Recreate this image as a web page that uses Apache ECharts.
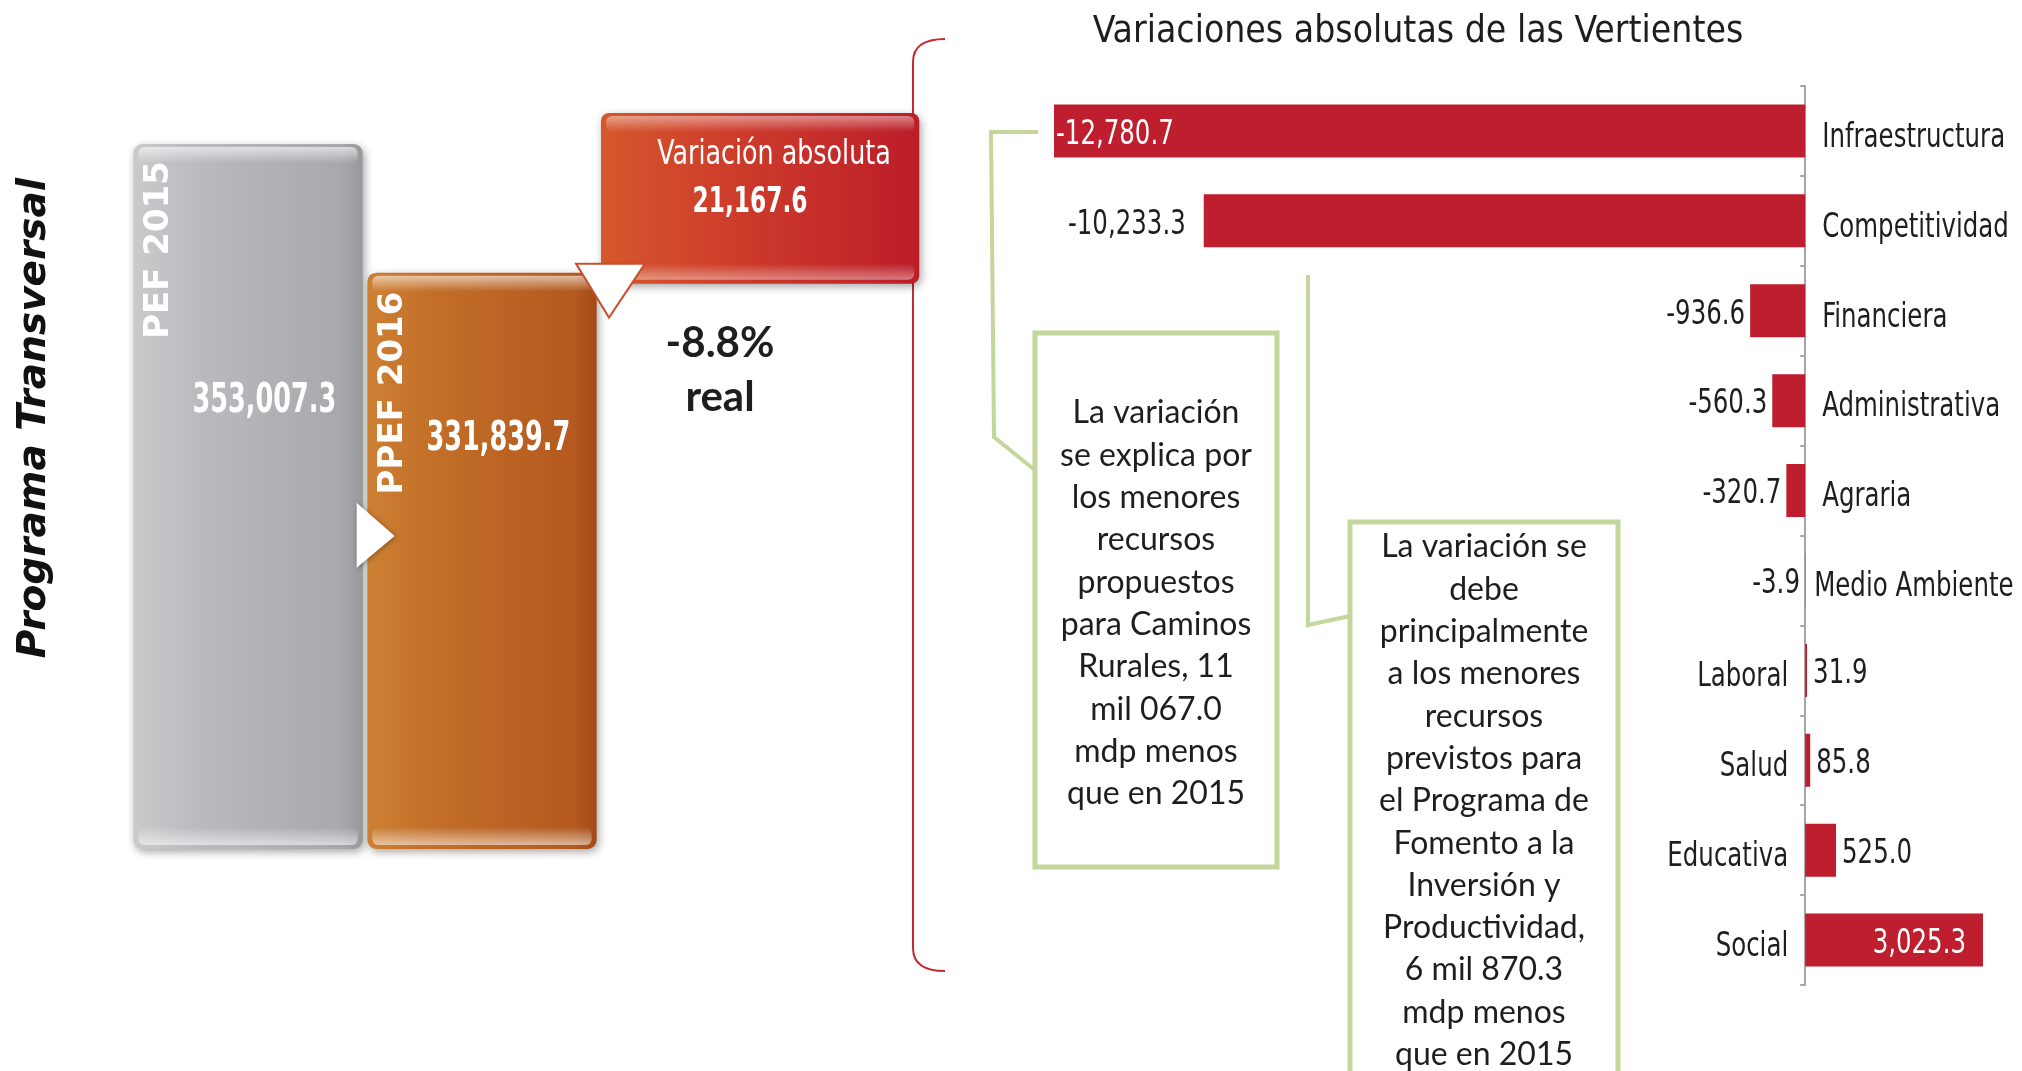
<!DOCTYPE html>
<html><head><meta charset="utf-8">
<script src="https://cdn.jsdelivr.net/npm/echarts/dist/echarts.min.js"></script>
<style>html,body{margin:0;padding:0;background:#fff}#c{width:2022px;height:1071px}</style>
</head><body><div id="c"></div>
<script>
// ---------- data ----------
const programLabel = 'Programa Transversal';
const budgetCategories = ['PEF 2015', 'PPEF 2016'];
const budgetValues = [353007.3, 331839.7];
const variationLabel = 'Variación absoluta';
const variationValue = 21167.6;
const realChange = ['-8.8%', 'real'];
const chartTitle = 'Variaciones absolutas de las Vertientes';
const vertientes = ['Infraestructura', 'Competitividad', 'Financiera', 'Administrativa', 'Agraria',
  'Medio Ambiente', 'Laboral', 'Salud', 'Educativa', 'Social'];
const variaciones = [-12780.7, -10233.3, -936.6, -560.3, -320.7, -3.9, 31.9, 85.8, 525.0, 3025.3];
const note1 = ['La variación', 'se explica por', 'los menores', 'recursos', 'propuestos',
  'para Caminos', 'Rurales, 11', 'mil 067.0', 'mdp menos', 'que en 2015'];
const note2 = ['La variación se', 'debe', 'principalmente', 'a los menores', 'recursos',
  'previstos para', 'el Programa de', 'Fomento a la', 'Inversión y', 'Productividad,',
  '6 mil 870.3', 'mdp menos', 'que en 2015'];

// ---------- helpers ----------
const COND = '"DejaVu Sans Condensed","DejaVu Sans",sans-serif';
const fmt = v => (v < 0 ? '-' : '') + Math.abs(v).toFixed(1).replace(/\B(?=(\d{3})+(?!\d))/g, ',');
const LG = echarts.graphic.LinearGradient;
const GREEN = '#c3d69b';
const DARK = '#1e1e1e';
const MID = { verticalAlign: 'middle', textVerticalAlign: 'middle' };

const chart = echarts.init(document.getElementById('c'));

const budgetStyles = [
  { stops: ['#c9cacc', '#b8babd', '#a7a9ac', '#97999c'], labelDx: 26, labelDy: 17, valueDx: 131, valueDy: 258 },
  { stops: ['#cd8033', '#c26e28', '#b4591f', '#a34a1a'], labelDx: 26, labelDy: 19, valueDx: 131, valueDy: 167 }
];

function renderBudget(params, api) {
  const i = params.dataIndex;
  const st = budgetStyles[i];
  const p = api.coord([api.value(0), api.value(1)]);
  const band = api.size([1, 0])[0];
  const w = band * 0.98;
  const x = p[0] - w / 2, y = p[1];
  const bottom = params.coordSys.y + params.coordSys.height;
  const h = bottom - y;
  const grad = new LG(0, 0, 1, 0, [
    { offset: 0, color: st.stops[0] }, { offset: 0.3, color: st.stops[1] },
    { offset: 0.9, color: st.stops[2] }, { offset: 1, color: st.stops[3] }]);
  const children = [
    { type: 'rect', shape: { x, y, width: w, height: h, r: 9 },
      style: { fill: grad, shadowBlur: 8, shadowColor: 'rgba(0,0,0,0.35)', shadowOffsetX: 2, shadowOffsetY: 3 } },
    { type: 'rect', shape: { x: x + 5, y: y + 3, width: w - 10, height: 16, r: 6 },
      style: { fill: new LG(0, 0, 0, 1, [{ offset: 0, color: 'rgba(255,255,255,0.6)' }, { offset: 1, color: 'rgba(255,255,255,0)' }]) } },
    { type: 'rect', shape: { x: x + 5, y: bottom - 22, width: w - 10, height: 18, r: 6 },
      style: { fill: new LG(0, 0, 0, 1, [{ offset: 0, color: 'rgba(255,255,255,0)' }, { offset: 1, color: 'rgba(255,255,255,0.55)' }]) } },
    { type: 'text', x: x + st.labelDx, y: y + st.labelDy, rotation: Math.PI / 2,
      style: Object.assign({ text: budgetCategories[i], fill: '#fff', font: 'bold 34px "DejaVu Sans"', textAlign: 'right' }, MID) },
    { type: 'text', x: x + st.valueDx, y: y + st.valueDy, scaleX: 0.71,
      style: Object.assign({ text: fmt(api.value(1)), fill: '#fff', font: 'bold 40px ' + COND, textAlign: 'center' }, MID) }
  ];
  if (i === 0) {
    children.push({ type: 'polygon', z2: 100, shape: { points: [[x + w - 6, y + h * 0.509], [x + w + 32, y + h * 0.556], [x + w - 6, y + h * 0.601]] },
      style: { fill: '#fff', shadowBlur: 5, shadowColor: 'rgba(0,0,0,0.35)', shadowOffsetX: 1, shadowOffsetY: 1 } });
  }
  return { type: 'group', children };
}

function renderVariation(params, api) {
  const band = api.size([1, 0])[0];
  const pLow = api.coord([api.value(0), api.value(1)]);
  const pHigh = api.coord([api.value(0), api.value(2)]);
  const left = pLow[0] - band / 2 + 2;
  const w = band * 1.36;
  const top = pHigh[1] - 31, bottom = pLow[1] + 11;
  const h = bottom - top;
  return { type: 'group', children: [
    { type: 'rect', shape: { x: left, y: top, width: w, height: h, r: 8 },
      style: { fill: new LG(0, 0, 1, 0, [{ offset: 0, color: '#d5582d' }, { offset: 0.35, color: '#cf402b' }, { offset: 1, color: '#bc1d29' }]),
        shadowBlur: 8, shadowColor: 'rgba(0,0,0,0.35)', shadowOffsetX: 2, shadowOffsetY: 3 } },
    { type: 'rect', shape: { x: left + 5, y: top + 3, width: w - 10, height: 16, r: 6 },
      style: { fill: new LG(0, 0, 0, 1, [{ offset: 0, color: 'rgba(255,255,255,0.45)' }, { offset: 1, color: 'rgba(255,255,255,0)' }]) } },
    { type: 'rect', shape: { x: left + 5, y: bottom - 20, width: w - 10, height: 16, r: 6 },
      style: { fill: new LG(0, 0, 0, 1, [{ offset: 0, color: 'rgba(255,255,255,0)' }, { offset: 1, color: 'rgba(255,255,255,0.4)' }]) } },
    { type: 'text', x: left + 173, y: top + 42, scaleX: 0.83,
      style: Object.assign({ text: variationLabel, fill: '#fff', font: '34px ' + COND, textAlign: 'center' }, MID) },
    { type: 'text', x: left + 149, y: top + 90, scaleX: 0.72,
      style: Object.assign({ text: fmt(api.value(3)), fill: '#fff', font: 'bold 36px ' + COND, textAlign: 'center' }, MID) },
    { type: 'polygon', shape: { points: [[left - 25, bottom - 20], [left + 44, bottom - 20], [left + 8, bottom + 34]] },
      style: { fill: '#fff', stroke: '#c9502c', lineWidth: 2 } },
    { type: 'text', x: left + 119, y: bottom + 60,
      style: Object.assign({ text: realChange[0], fill: DARK, font: 'bold 42px Lato', textAlign: 'center' }, MID) },
    { type: 'text', x: left + 119, y: bottom + 114,
      style: Object.assign({ text: realChange[1], fill: DARK, font: 'bold 42px Lato', textAlign: 'center' }, MID) }
  ] };
}

const lastIdx = variaciones.length - 1;
function renderLabels(params, api) {
  const i = params.dataIndex;
  const v = api.value(0);
  const end = api.coord([v, i]);
  const zero = api.coord([0, i]);
  const neg = v < 0;
  let vx, align, color = DARK;
  if (i === 0) { vx = end[0] + 2; align = 'left'; color = '#fff'; }
  else if (i === lastIdx) { vx = end[0] - 17; align = 'right'; color = '#fff'; }
  else if (neg) { vx = end[0] - (i === 1 ? 18 : 5); align = 'right'; }
  else { vx = end[0] + 6; align = 'left'; }
  const nx = neg ? zero[0] + (i === 5 ? 9 : 17) : zero[0] - 17;
  return { type: 'group', children: [
    { type: 'text', x: vx, y: end[1] + 4, scaleX: 0.8,
      style: Object.assign({ text: fmt(v), fill: color, font: '34px ' + COND, textAlign: align }, MID) },
    { type: 'text', x: nx, y: zero[1] + 7, scaleX: 0.8,
      style: Object.assign({ text: vertientes[i], fill: DARK, font: '34px ' + COND, textAlign: neg ? 'left' : 'right' }, MID) }
  ] };
}

function textBlock(lines, cx, top) {
  return { type: 'text', x: cx, y: top,
    style: { text: lines.join('\n'), fill: DARK, font: '32px Lato', lineHeight: 42.3,
      textAlign: 'center', verticalAlign: 'top', textVerticalAlign: 'top' } };
}
const BRACE = { stroke: '#c42a30', lineWidth: 2, fill: 'none' };

chart.setOption({
  backgroundColor: '#fff',
  animation: false,
  grid: [
    { left: 131, top: 144, width: 702, height: 705 },
    { left: 1054, top: 86, width: 929, height: 899 }
  ],
  xAxis: [
    { gridIndex: 0, type: 'category', data: [budgetCategories[0], budgetCategories[1], variationLabel], show: false },
    { gridIndex: 1, type: 'value', min: v => v.min, max: v => v.max, show: false }
  ],
  yAxis: [
    { gridIndex: 0, type: 'value', min: 237000, max: 'dataMax', show: false },
    { gridIndex: 1, type: 'category', data: vertientes, inverse: true,
      axisLine: { onZero: true, lineStyle: { color: '#a6a6a6', width: 2 } },
      axisTick: { show: true, length: 5, lineStyle: { color: '#a6a6a6', width: 2 } },
      axisLabel: { show: false }, splitLine: { show: false } }
  ],
  series: [
    { type: 'custom', xAxisIndex: 0, yAxisIndex: 0, renderItem: renderBudget,
      encode: { x: 0, y: 1 }, data: budgetValues.map((v, i) => [i, v]) },
    { type: 'custom', xAxisIndex: 0, yAxisIndex: 0, renderItem: renderVariation,
      encode: { x: 0, y: [1, 2] },
      data: [[2, budgetValues[1], budgetValues[1] + variationValue, variationValue]] },
    { type: 'bar', xAxisIndex: 1, yAxisIndex: 1, barWidth: 53, data: variaciones,
      itemStyle: { color: '#be1e2d' } },
    { type: 'custom', xAxisIndex: 1, yAxisIndex: 1, renderItem: renderLabels, silent: true,
      encode: { x: 0, y: 1 }, data: variaciones.map((v, i) => [v, i]), z: 5 }
  ],
  graphic: [
    { type: 'text', x: 1418, y: 32, style: Object.assign({ text: chartTitle, fill: DARK, font: '37px ' + COND, textAlign: 'center' }, MID) },
    { type: 'text', x: 35, y: 418, rotation: Math.PI / 2, style: Object.assign({ text: programLabel, fill: '#111',
      font: 'italic bold 39px "DejaVu Sans"', textAlign: 'center' }, MID) },
    { type: 'bezierCurve', shape: { x1: 945, y1: 39, cpx1: 913, cpy1: 39, x2: 913, y2: 62 }, style: BRACE },
    { type: 'line', shape: { x1: 913, y1: 62, x2: 913, y2: 948 }, style: BRACE },
    { type: 'bezierCurve', shape: { x1: 913, y1: 948, cpx1: 913, cpy1: 971, x2: 945, y2: 971 }, style: BRACE },
    { type: 'polyline', shape: { points: [[1038, 132], [991, 132], [994, 437], [1036, 471]] },
      style: { stroke: GREEN, lineWidth: 4, fill: 'none' } },
    { type: 'rect', shape: { x: 1035, y: 333, width: 242, height: 534 },
      style: { fill: '#fff', stroke: GREEN, lineWidth: 5 } },
    textBlock(note1, 1156, 392),
    { type: 'polyline', shape: { points: [[1308, 275], [1308, 625], [1350, 616]] },
      style: { stroke: GREEN, lineWidth: 4, fill: 'none' } },
    { type: 'rect', shape: { x: 1350, y: 522, width: 268, height: 600 },
      style: { fill: '#fff', stroke: GREEN, lineWidth: 5 } },
    textBlock(note2, 1484, 526)
  ]
});
</script></body></html>
